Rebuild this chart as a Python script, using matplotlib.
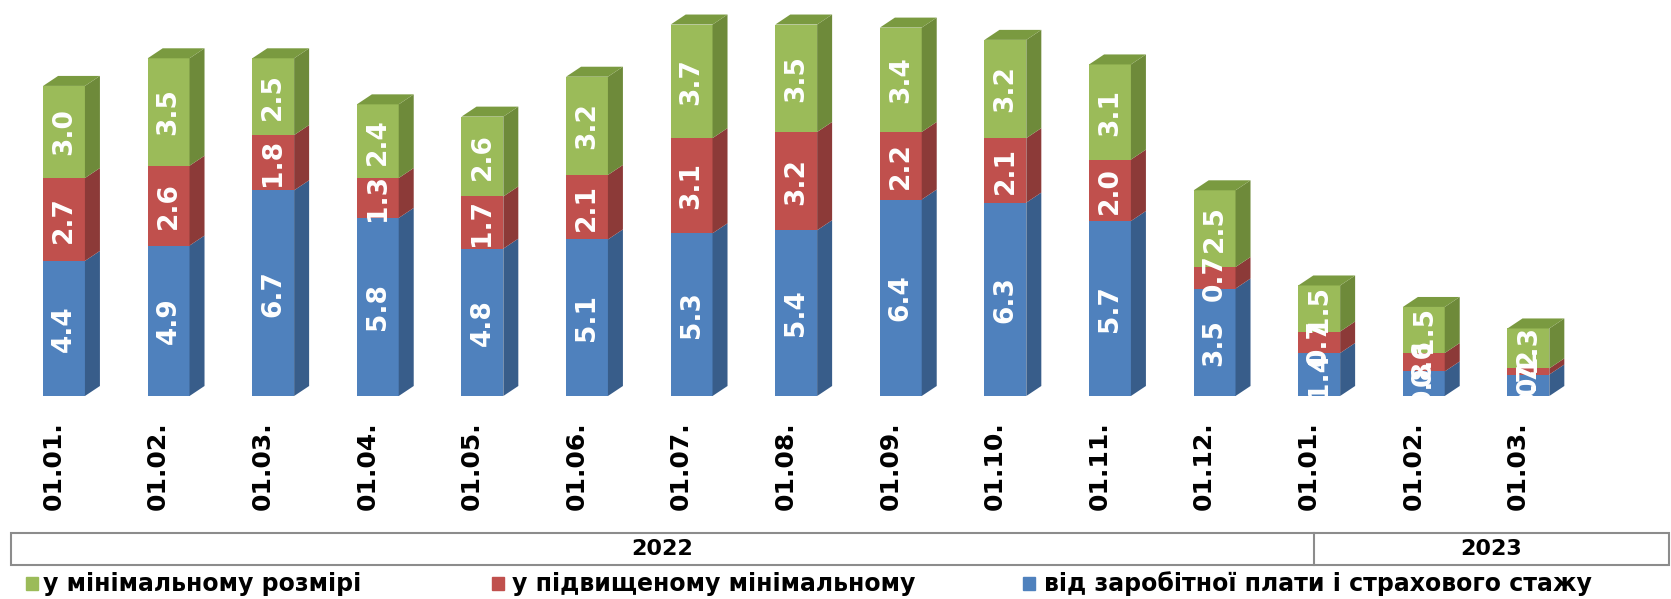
import matplotlib.pyplot as plt
from matplotlib.patches import Polygon, Rectangle
from matplotlib.lines import Line2D

months = ['01.01.', '01.02.', '01.03.', '01.04.', '01.05.', '01.06.', '01.07.', '01.08.',
          '01.09.', '01.10.', '01.11.', '01.12.', '01.01.', '01.02.', '01.03.']
years = ['2022', '2023']
wage = [4.4, 4.9, 6.7, 5.8, 4.8, 5.1, 5.3, 5.4, 6.4, 6.3, 5.7, 3.5, 1.4, 0.8, 0.7]
raised = [2.7, 2.6, 1.8, 1.3, 1.7, 2.1, 3.1, 3.2, 2.2, 2.1, 2.0, 0.7, 0.7, 0.6, 0.2]
minimal = [3.0, 3.5, 2.5, 2.4, 2.6, 3.2, 3.7, 3.5, 3.4, 3.2, 3.1, 2.5, 1.5, 1.5, 1.3]
names = ['у мінімальному розмірі', 'у підвищеному мінімальному',
         'від заробітної плати і страхового стажу']

# front, side, top colours
c_blue = ('#4F81BD', '#385D8A', '#4A76AC')
c_red = ('#C0504D', '#8C3A38', '#A94542')
c_green = ('#9BBB59', '#6E8A3A', '#7A9A40')

W, H = 1671, 599
px_x = 104.6   # pixels per category
px_y = 30.7    # pixels per unit
x0_px = 64
base_px = 396

fig = plt.figure(figsize=(W / 100, H / 100), dpi=100)
ax = fig.add_axes([0, (H - base_px) / H, 1, base_px / H])
ax.set_xlim(-x0_px / px_x, (W - x0_px) / px_x)
ax.set_ylim(0, base_px / px_y)
ax.axis('off')

bw = 0.40
dx = 15 / px_x
dy = 10 / px_y

for i in range(len(months)):
    bottom = 0
    segs = [(wage[i], c_blue), (raised[i], c_red), (minimal[i], c_green)]
    for val, col in segs:
        l, r = i - bw / 2, i + bw / 2
        ax.bar(i, val, bw, bottom=bottom, color=col[0], linewidth=0, zorder=2)
        ax.add_patch(Polygon([(r, bottom), (r + dx, bottom + dy), (r + dx, bottom + val + dy),
                              (r, bottom + val)], closed=True, color=col[1], lw=0, zorder=2))
        ax.text(i, bottom + val / 2, f'{val:.1f}', rotation=90, ha='center', va='center',
                color='white', fontsize=19, fontweight='bold', zorder=5)
        bottom += val
    top_col = segs[-1][1][2]
    ax.add_patch(Polygon([(i - bw / 2, bottom), (i + bw / 2, bottom), (i + bw / 2 + dx, bottom + dy),
                          (i - bw / 2 + dx, bottom + dy)], closed=True, color=top_col, lw=0, zorder=2))
    ax.text(i - 0.1, -0.063, months[i], rotation=90, ha='center', va='top',
            transform=ax.get_xaxis_transform(), fontsize=18, fontweight='bold', clip_on=False)

# year box under the axis
gray = '#8C8C8C'
bx0, bx1, by0, by1, bdiv = 11 / W, 1669 / W, 1 - 565 / H, 1 - 533 / H, 1314 / W
fig.add_artist(Rectangle((bx0, by0), bx1 - bx0, by1 - by0, transform=fig.transFigure,
                         fill=False, edgecolor=gray, lw=1.5))
fig.add_artist(Line2D([bdiv, bdiv], [by0, by1], transform=fig.transFigure, color=gray, lw=1.5))
fig.text((bx0 + bdiv) / 2, (by0 + by1) / 2, years[0], ha='center', va='center',
         fontsize=16, fontweight='bold')
fig.text((bdiv + bx1) / 2, (by0 + by1) / 2, years[1], ha='center', va='center',
         fontsize=16, fontweight='bold')

# legend
leg_y = 1 - 584 / H
for sx, tx, col, name in [(26, 43, c_green[0], names[0]), (492, 512, c_red[0], names[1]),
                          (1023, 1044, c_blue[0], names[2])]:
    fig.add_artist(Rectangle((sx / W, leg_y - 6 / H), 12 / W, 13 / H,
                             transform=fig.transFigure, color=col))
    fig.text(tx / W, leg_y, name, ha='left', va='center', fontsize=17, fontweight='bold')

plt.savefig('out.png', dpi=100)
